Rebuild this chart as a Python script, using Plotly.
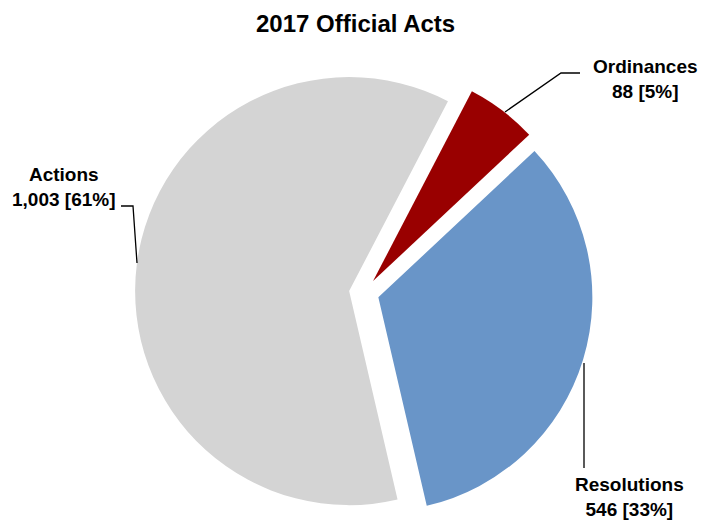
import plotly.graph_objects as go

labels = ["Ordinances", "Resolutions", "Actions"]
values = [88, 546, 1003]
colors = ["#990000", "#6995C8", "#D4D4D4"]
title = "2017 Official Acts"

W, H = 711, 522
FONT = "Liberation Sans, Arial, sans-serif"

total = sum(values)
texts = [f"<b>{l}<br>{v:,} [{round(100*v/total)}%]</b>" for l, v in zip(labels, values)]

def px(x, y):
    return x / W, 1 - y / H

fig = go.Figure(go.Pie(
    labels=labels, values=values, sort=False, direction="clockwise",
    rotation=27.5, pull=[0.07, 0.07, 0.07],
    marker=dict(colors=colors, line=dict(width=0)),
    textinfo="none", hoverinfo="label+value+percent", showlegend=False,
    domain=dict(x=[135 / W, 593 / W], y=[0, 458 / H]),
))

# label positions (pixel centers) and leader-line paths
label_pos = [(645, 79), (629, 497), (64, 187)]
leaders = [
    [(580, 73), (561, 73), (505, 112)],
    [(584, 468), (584, 363)],
    [(121, 206), (133, 206), (137, 263)],
]

annotations = []
for t, (x, y) in zip(texts, label_pos):
    ax, ay = px(x, y)
    annotations.append(dict(x=ax, y=ay, xref="paper", yref="paper", text=t,
                            showarrow=False, xanchor="center", yanchor="middle",
                            font=dict(family=FONT, size=19, color="#000000")))
tx, ty = px(355, 23)
annotations.append(dict(x=tx, y=ty, xref="paper", yref="paper", text=f"<b>{title}</b>",
                        showarrow=False, xanchor="center", yanchor="middle",
                        font=dict(family=FONT, size=24, color="#000000")))

shapes = []
for pts in leaders:
    p = [px(x, y) for x, y in pts]
    path = "M " + " L ".join(f"{a},{b}" for a, b in p)
    shapes.append(dict(type="path", xref="paper", yref="paper", path=path,
                       line=dict(color="#000000", width=1.3)))

fig.update_layout(
    width=W, height=H, margin=dict(l=0, r=0, t=0, b=0),
    paper_bgcolor="white", plot_bgcolor="white",
    annotations=annotations, shapes=shapes,
)
fig.write_html("out.html", config={"displayModeBar": False},
               post_script="document.body.style.margin='0px';")
